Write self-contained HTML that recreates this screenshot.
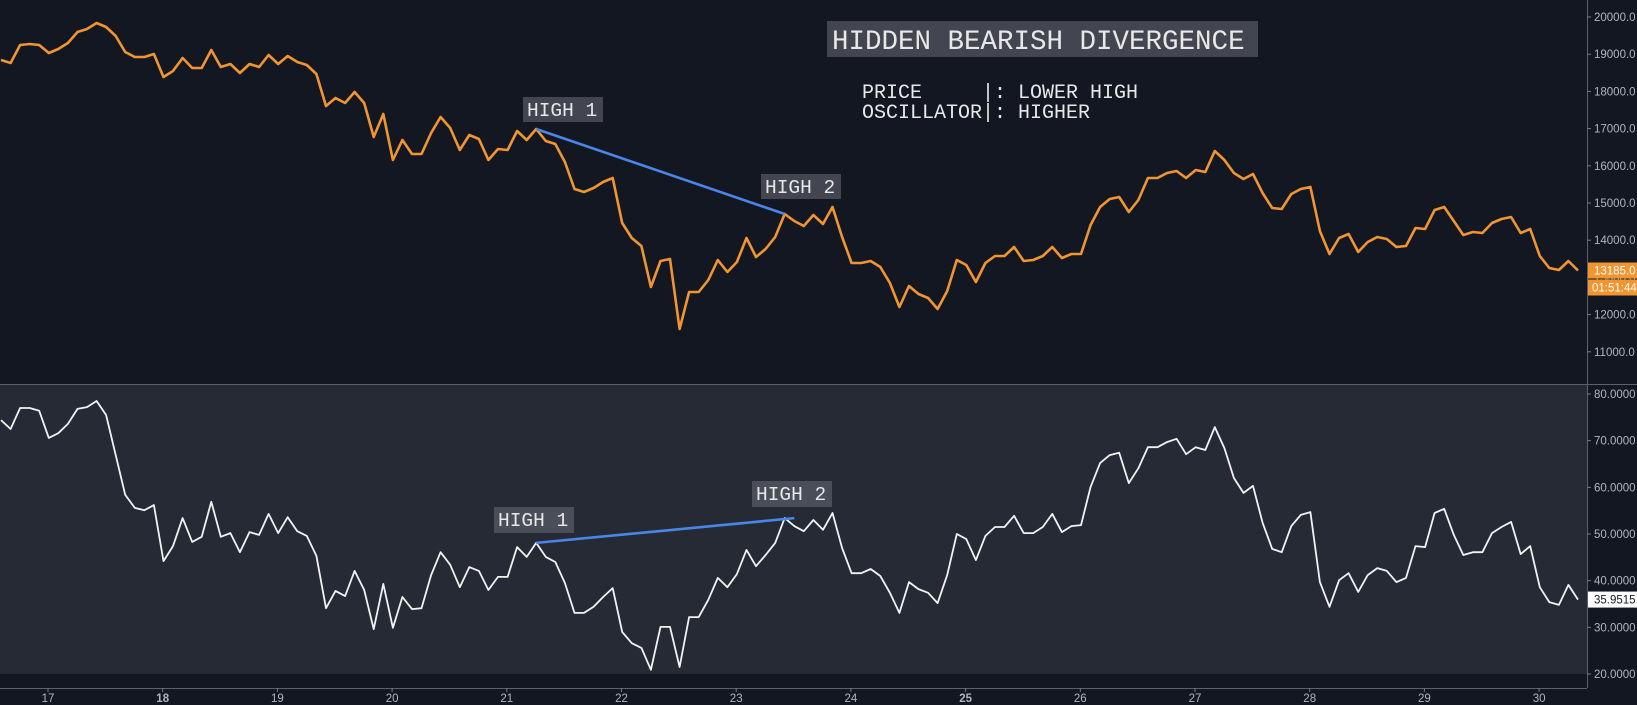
<!DOCTYPE html>
<html><head><meta charset="utf-8">
<style>
html,body{margin:0;padding:0;background:#131722;}
svg{display:block;}
</style></head>
<body>
<svg id="chart" width="1637" height="705" xmlns="http://www.w3.org/2000/svg" font-family="Liberation Sans, sans-serif">
  <rect x="0" y="0" width="1637" height="705" fill="#131722"/>
  <rect x="0" y="385" width="1587" height="289" fill="#262a35"/>
  <line x1="0" y1="384.5" x2="1637" y2="384.5" stroke="#5d606b" stroke-width="1"/>
  <line x1="1587.5" y1="0" x2="1587.5" y2="688" stroke="#5d606b" stroke-width="1"/>
  <line x1="0" y1="688.5" x2="1587" y2="688.5" stroke="#5d606b" stroke-width="1"/>
  <g id="g-price-ticks"></g>
  <g id="g-osc-ticks"></g>
  <g id="g-time-ticks"></g>
  <g id="g-series"></g>
  <g>
    <rect x="827" y="21" width="431" height="36" fill="#434651"/>
    <text x="832" y="49" font-family="Liberation Mono, monospace" font-size="27.5" fill="#e8e8e8">HIDDEN BEARISH DIVERGENCE</text>
  </g>
  <text x="862" y="98" font-family="Liberation Mono, monospace" font-size="20" fill="#e8e8e8" xml:space="preserve">PRICE     |: LOWER HIGH</text>
  <text x="862" y="118" font-family="Liberation Mono, monospace" font-size="20" fill="#e8e8e8" xml:space="preserve">OSCILLATOR|: HIGHER</text>
  <g>
    <rect x="523" y="97" width="80" height="25" fill="#434651"/>
    <text x="527" y="116" font-family="Liberation Mono, monospace" font-size="19.5" fill="#e8e8e8">HIGH 1</text>
  </g>
  <g>
    <rect x="761" y="174" width="80" height="25" fill="#434651"/>
    <text x="765" y="193" font-family="Liberation Mono, monospace" font-size="19.5" fill="#e8e8e8">HIGH 2</text>
  </g>
  <g>
    <rect x="494" y="507" width="80" height="26" fill="#4a4e59"/>
    <text x="498" y="526" font-family="Liberation Mono, monospace" font-size="19.5" fill="#e8e8e8">HIGH 1</text>
  </g>
  <g>
    <rect x="752" y="481" width="80" height="26" fill="#4a4e59"/>
    <text x="756" y="500" font-family="Liberation Mono, monospace" font-size="19.5" fill="#e8e8e8">HIGH 2</text>
  </g>
  <g id="g-tags"></g>
</svg>
<script>
const priceValues=[18844,18763,19247,19274,19247,19032,19140,19301,19597,19677,19839,19731,19489,19059,18925,18925,19005,18387,18548,18898,18629,18629,19113,18656,18737,18495,18737,18656,18979,18737,18952,18790,18710,18468,17608,17823,17688,17984,17688,16774,17393,16156,16694,16317,16317,16882,17312,17016,16425,16828,16721,16156,16452,16425,16936,16694,16989,16667,16586,16102,15377,15296,15403,15565,15672,14463,14060,13845,12742,13441,13495,11613,12608,12608,12930,13468,13146,13414,14060,13549,13764,14086,14704,14516,14382,14677,14435,14893,14086,13387,13387,13441,13280,12850,12205,12769,12554,12446,12151,12635,13468,13334,12877,13387,13576,13576,13817,13441,13468,13576,13817,13522,13630,13630,14409,14893,15108,15162,14758,15081,15672,15672,15807,15860,15672,15887,15834,16398,16156,15807,15645,15780,15269,14866,14839,15242,15376,15430,14247,13630,14060,14167,13683,13952,14086,14032,13817,13845,14328,14301,14812,14893,14516,14140,14221,14194,14463,14570,14624,14194,14301,13576,13253,13199,13441,13185];
const oscValues=[74.4,72.5,77.0,77.0,76.4,70.6,71.6,73.6,76.8,77.2,78.5,75.5,66.9,58.4,55.6,55.1,56.2,44.2,47.4,53.4,48.3,49.4,56.9,49.4,50.2,46.1,50.4,49.8,54.3,50.2,53.6,50.6,49.6,45.3,34.1,37.8,36.7,42.1,38.0,29.6,39.3,29.9,36.5,33.9,34.1,41.2,46.1,43.4,38.6,42.9,42.1,38.0,40.8,40.8,47.2,45.1,48.1,45.1,44.0,39.5,33.1,33.1,34.4,36.5,38.4,29.0,26.6,25.6,20.9,30.1,30.1,21.5,32.2,32.2,35.9,40.6,38.6,41.4,46.6,43.1,45.5,48.1,53.4,51.7,50.6,53.0,50.9,54.5,47.0,41.6,41.6,42.5,41.0,37.4,33.1,39.7,38.2,37.4,35.2,41.2,50.0,48.9,44.4,49.6,51.5,51.5,53.9,50.2,50.2,51.5,54.3,50.4,51.7,51.9,60.1,65.2,66.9,67.4,60.9,64.1,68.6,68.6,69.7,70.4,67.1,68.6,68.0,72.9,68.4,62.0,58.8,60.3,52.4,46.8,46.1,51.7,54.1,54.7,39.7,34.4,40.1,41.6,37.6,41.2,42.7,42.1,39.7,40.6,47.4,47.2,54.5,55.4,49.8,45.5,46.1,46.1,50.2,51.5,52.6,45.7,47.4,38.6,35.4,34.8,39.1,35.9515];
const priceTicks=[11000,12000,13000,14000,15000,16000,17000,18000,19000,20000];
const oscTicks=[20,30,40,50,60,70,80];
const dayLabels=["17","18","19","20","21","22","23","24","25","26","27","28","29","30"];
const dayBold=["18","25"];
const priceDivergence=[56,82];
const oscDivergenceIdx=[56,83];
const oscDivergenceVals=[48.1,53.4];
const lastPriceLabel="13185.0";
const countdownLabel="01:51:44";
const lastOscLabel="35.9515";

const NS="http://www.w3.org/2000/svg";
function xIdx(i){return 1+i*(1577/(priceValues.length-1));}
function yPrice(p){return 17+(20000-p)/1000*37.2;}
function yOsc(v){return 394+(80-v)*4.667;}
function xDay(k){return 48+k*114.7;}
function mk(tag,attrs,parent){const e=document.createElementNS(NS,tag);for(const k in attrs)e.setAttribute(k,attrs[k]);parent.appendChild(e);return e;}

const gP=document.getElementById('g-price-ticks');
priceTicks.forEach(t=>{
  const y=yPrice(t);
  const tk=mk('line',{x1:1587,x2:1591,y1:y,y2:y,stroke:'#787b86'},gP);
  
  
  const tx=mk('text',{x:1594,y:y+4,'font-size':11.5,fill:'#b2b5be'},gP);
  
  
  tx.textContent=t.toFixed(1);
});
const gO=document.getElementById('g-osc-ticks');
oscTicks.forEach(t=>{
  const y=yOsc(t);
  const tk=mk('line',{x1:1587,x2:1591,y1:y,y2:y,stroke:'#787b86'},gO);
  
  
  const tx=mk('text',{x:1594,y:y+4,'font-size':11.5,fill:'#b2b5be'},gO);
  
  
  tx.textContent=t.toFixed(4);
});
const gT=document.getElementById('g-time-ticks');
dayLabels.forEach((d,k)=>{
  const x=xDay(k);
  const tk=mk('line',{x1:x,x2:x,y1:688,y2:692,stroke:'#787b86'},gT);
  
  
  const tx=mk('text',{x:x,y:702,'font-size':11.5,fill:'#b2b5be','text-anchor':'middle','font-weight':dayBold.includes(d)?'bold':'normal'},gT);
  
  
  tx.textContent=d;
});

const gS=document.getElementById('g-series');
const pp=mk('polyline',{points:priceValues.map((v,i)=>xIdx(i).toFixed(1)+','+yPrice(v).toFixed(1)).join(' '),fill:'none',stroke:'#f0952f','stroke-width':2.6,'stroke-linejoin':'round'},gS);


const op=mk('polyline',{points:oscValues.map((v,i)=>xIdx(i).toFixed(1)+','+yOsc(v).toFixed(1)).join(' '),fill:'none',stroke:'#f2f2f2','stroke-width':1.8,'stroke-linejoin':'round'},gS);


const pd=mk('line',{x1:xIdx(priceDivergence[0]),y1:yPrice(priceValues[priceDivergence[0]]),x2:xIdx(priceDivergence[1]),y2:yPrice(priceValues[priceDivergence[1]]),stroke:'#4a86e8','stroke-width':2.6},gS);


const od=mk('line',{x1:xIdx(oscDivergenceIdx[0]),y1:yOsc(oscDivergenceVals[0]),x2:xIdx(oscDivergenceIdx[1]),y2:yOsc(oscDivergenceVals[1]),stroke:'#4a86e8','stroke-width':2.6},gS);



const gG=document.getElementById('g-tags');
const lp=priceValues[priceValues.length-1];
const yl=yPrice(lp);
const r1=mk('rect',{x:1588,y:yl-8,width:49,height:16,fill:'#f0952f'},gG);


const t1=mk('text',{x:1594,y:yl+4,'font-size':11.5,fill:'#ffffff'},gG);


t1.textContent=lastPriceLabel;
const r2=mk('rect',{x:1588,y:yl+9,width:49,height:16,fill:'#f0952f'},gG);


const t2=mk('text',{x:1592,y:yl+21,'font-size':11.5,fill:'#ffffff'},gG);


t2.textContent=countdownLabel;
const yo=yOsc(oscValues[oscValues.length-1]);
const r3=mk('rect',{x:1588,y:yo-8,width:49,height:16,fill:'#ffffff'},gG);


const t3=mk('text',{x:1594,y:yo+4,'font-size':11.5,fill:'#131722'},gG);


t3.textContent=lastOscLabel;
</script>
</body></html>
